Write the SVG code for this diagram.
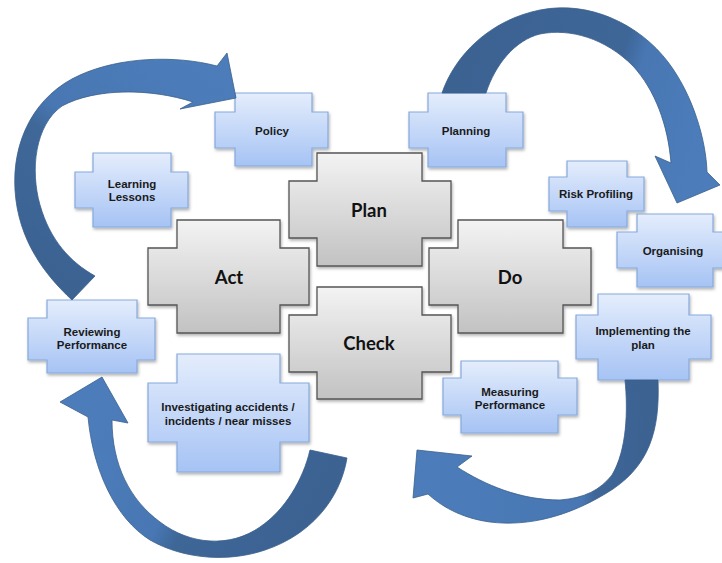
<svg xmlns="http://www.w3.org/2000/svg" width="722" height="563" viewBox="0 0 722 563">
<defs>
<linearGradient id="gGray" x1="0" y1="0" x2="0" y2="1">
<stop offset="0" stop-color="#f3f3f3"/><stop offset="1" stop-color="#c2c2c2"/>
</linearGradient>
<linearGradient id="gBlue" x1="0" y1="0" x2="0" y2="1">
<stop offset="0" stop-color="#e4edfc"/><stop offset="1" stop-color="#a6c3f4"/>
</linearGradient>
<linearGradient id="a1" gradientUnits="userSpaceOnUse" x1="40" y1="280" x2="200" y2="60">
<stop offset="0" stop-color="#3b6291"/><stop offset="0.45" stop-color="#3f6899"/><stop offset="0.55" stop-color="#4877b3"/><stop offset="1" stop-color="#4c7dba"/>
</linearGradient>
<linearGradient id="a2" gradientUnits="userSpaceOnUse" x1="450" y1="40" x2="710" y2="120">
<stop offset="0" stop-color="#3b6291"/><stop offset="0.62" stop-color="#3e6697"/><stop offset="0.7" stop-color="#4877b3"/><stop offset="1" stop-color="#4c7dba"/>
</linearGradient>
<linearGradient id="a3" gradientUnits="userSpaceOnUse" x1="420" y1="480" x2="650" y2="470">
<stop offset="0" stop-color="#4c7dba"/><stop offset="0.7" stop-color="#4877b3"/><stop offset="0.76" stop-color="#3e6697"/><stop offset="1" stop-color="#3b6291"/>
</linearGradient>
<linearGradient id="a4" gradientUnits="userSpaceOnUse" x1="100" y1="420" x2="320" y2="530">
<stop offset="0" stop-color="#4c7dba"/><stop offset="0.4" stop-color="#4877b3"/><stop offset="0.5" stop-color="#3e6697"/><stop offset="1" stop-color="#3b6291"/>
</linearGradient>
<filter id="sh" x="-10%" y="-10%" width="130%" height="130%">
<feDropShadow dx="1" dy="2" stdDeviation="1.5" flood-color="#000" flood-opacity="0.3"/>
</filter>
</defs>
<style>
.gray{fill:url(#gGray);stroke:#555;stroke-width:1.3;filter:url(#sh)}
.blue{fill:url(#gBlue);stroke:#86a9dc;stroke-width:1.2;filter:url(#sh)}
.big{font-family:Lato,"Liberation Sans",sans-serif;font-weight:bold;font-size:18.5px;fill:#111;text-anchor:middle}
.sm{font-family:"Liberation Sans",Arial,sans-serif;font-weight:bold;font-size:11.5px;fill:#1a1a1a;text-anchor:middle}
.arr{stroke:#3a5f8c;stroke-width:0.8;stroke-linejoin:round}
</style>
<rect width="722" height="563" fill="#fff"/>

<g id="plan">
<path class="gray" d="M317,153 H422 V181 H451 V238 H422 V266 H317 V238 H289 V181 H317 Z"/>
<text class="big" x="369" y="217">Plan</text>
</g>
<g id="act">
<path class="gray" d="M177,220 H280 V248 H309 V305 H280 V333 H177 V305 H148 V248 H177 Z"/>
<text class="big" x="229" y="284">Act</text>
</g>
<g id="do">
<path class="gray" d="M458,220 H563 V248 H591 V305 H563 V333 H458 V305 H429 V248 H458 Z"/>
<text class="big" x="510" y="284">Do</text>
</g>
<g id="check">
<path class="gray" d="M317,287 H422 V315 H451 V372 H422 V399 H317 V372 H289 V315 H317 Z"/>
<text class="big" x="369" y="350">Check</text>
</g>

<g id="policy">
<path class="blue" d="M235,93 H312 V112 H328 V148 H312 V166 H235 V148 H215 V112 H235 Z"/>
<text class="sm" x="272" y="135">Policy</text>
</g>
<g id="planning">
<path class="blue" d="M428,93 H506 V112 H523 V148 H506 V167 H428 V148 H409 V112 H428 Z"/>
<text class="sm" x="466" y="135">Planning</text>
</g>
<g id="risk-profiling">
<path class="blue" d="M567,161 H627 V177 H644 V211 H627 V227 H567 V211 H549 V177 H567 Z"/>
<text class="sm" x="596" y="198">Risk Profiling</text>
</g>
<g id="organising">
<path class="blue" d="M637,214 H713 V232 H733 V268 H713 V287 H637 V268 H617 V232 H637 Z"/>
<text class="sm" x="673" y="255">Organising</text>
</g>
<g id="implementing">
<path class="blue" d="M598,294 H689 V315 H711 V359 H689 V380 H598 V359 H576 V315 H598 Z"/>
<text class="sm" x="643" y="335">Implementing the</text>
<text class="sm" x="643" y="349">plan</text>
</g>
<g id="measuring">
<path class="blue" d="M461,361 H558 V378 H577 V415 H558 V433 H461 V415 H443 V378 H461 Z"/>
<text class="sm" x="510" y="396">Measuring</text>
<text class="sm" x="510" y="409">Performance</text>
</g>
<g id="investigating">
<path class="blue" d="M177,354 H280 V383 H309 V442 H280 V472 H177 V442 H148 V383 H177 Z"/>
<text class="sm" x="228" y="411">Investigating accidents /</text>
<text class="sm" x="228" y="425">incidents / near misses</text>
</g>
<g id="reviewing">
<path class="blue" d="M47,300 H137 V318 H155 V360 H137 V373 H47 V360 H28 V318 H47 Z"/>
<text class="sm" x="92" y="336">Reviewing</text>
<text class="sm" x="92" y="349">Performance</text>
</g>
<g id="learning">
<path class="blue" d="M93,153 H171 V172 H188 V208 H171 V227 H93 V208 H75 V172 H93 Z"/>
<text class="sm" x="132" y="188">Learning</text>
<text class="sm" x="132" y="201">Lessons</text>
</g>

<g id="connectors">
<path class="arr" fill="url(#a1)" d="M72,300 C45,275 18,240 15,190 C12,140 35,95 80,75 C120,57 175,55 217,66 L227,53 L236,98 L180,109 L193,102 C150,88 95,88 62,106 C35,125 30,170 40,205 C50,240 70,262 95,276 Z"/>
<path class="arr" fill="url(#a2)" d="M442,93 C455,55 490,20 540,10 C590,0 640,25 668,62 C693,95 706,140 707,172 L720,185 L677,203 L655,156 L671,163 C668,125 655,90 633,66 C605,38 570,28 540,34 C515,40 495,65 486,93 Z"/>
<path class="arr" fill="url(#a3)" d="M625,380 L658,380 C660,430 650,468 605,494 C570,515 530,527 490,522 C460,518 440,505 428,494 L413,498 L417,450 L472,456 L457,467 C485,485 520,500 560,500 C585,498 600,490 612,475 C627,450 628,410 625,380 Z"/>
<path class="arr" fill="url(#a4)" d="M347,458 C340,500 310,535 265,550 C230,562 185,560 150,540 C115,518 93,470 88,417 L60,402 L102,377 L128,423 L112,420 C112,465 130,500 160,522 C190,545 230,548 260,527 C285,510 303,480 310,450 Z"/>
</g>
</svg>
